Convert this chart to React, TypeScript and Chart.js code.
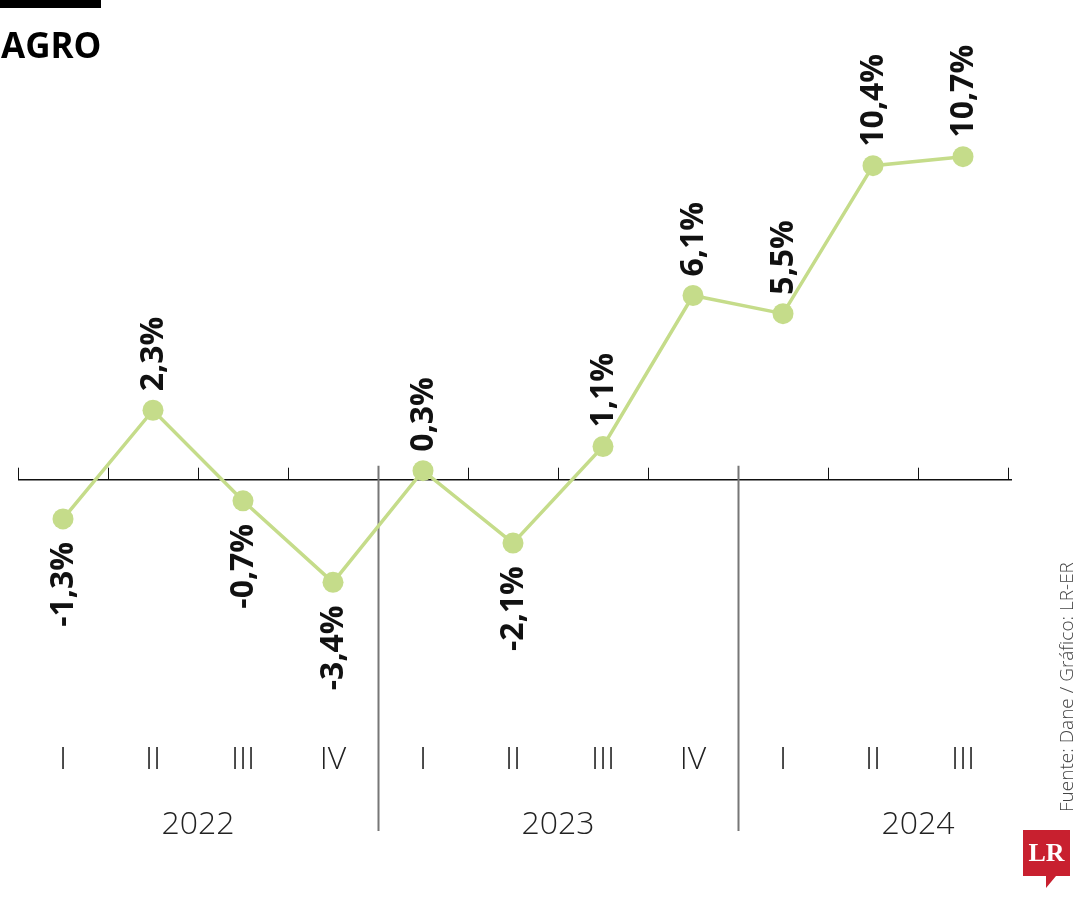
import React, { useEffect, useRef } from "react";
import { Chart, registerables } from "chart.js";

Chart.register(...registerables);

const quarters = ["I", "II", "III", "IV", "I", "II", "III", "IV", "I", "II", "III"];
const years = ["2022", "2023", "2024"];
const quartersPerYear = [4, 4, 3];
const values = [-1.3, 2.3, -0.7, -3.4, 0.3, -2.1, 1.1, 6.1, 5.5, 10.4, 10.7];
const valueLabels = ["-1,3%", "2,3%", "-0,7%", "-3,4%", "0,3%", "-2,1%", "1,1%", "6,1%", "5,5%", "10,4%", "10,7%"];
const title = "AGRO";
const source = "Fuente: Dane / Gráfico: LR-ER";

const GREEN = "rgb(197,220,138)";

const decor = {
  id: "decor",
  beforeDatasetsDraw(chart: any) {
    const ctx = chart.ctx;
    const x = chart.scales.x;
    const y = chart.scales.y;
    const y0 = y.getPixelForValue(0);
    const n = values.length;
    const step = x.getPixelForValue(1) - x.getPixelForValue(0);
    const left = x.getPixelForValue(0) - step / 2;
    ctx.save();
    ctx.strokeStyle = "#111";
    ctx.lineWidth = 1.5;
    ctx.beginPath();
    ctx.moveTo(left, y0);
    ctx.lineTo(left + n * step + 4, y0);
    ctx.stroke();
    let idx = 0;
    const dividers: number[] = [];
    quartersPerYear.forEach((q, i) => {
      idx += q;
      if (i < quartersPerYear.length - 1) dividers.push(idx);
    });
    for (let i = 0; i <= n; i++) {
      const px = Math.round(left + i * step) + 0.5;
      if (dividers.includes(i)) {
        ctx.strokeStyle = "#777";
        ctx.lineWidth = 2;
        ctx.beginPath();
        ctx.moveTo(px, y0 - 14);
        ctx.lineTo(px, 831);
        ctx.stroke();
      } else {
        ctx.strokeStyle = "#111";
        ctx.lineWidth = 1;
        ctx.beginPath();
        ctx.moveTo(px, y0 - 12);
        ctx.lineTo(px, y0);
        ctx.stroke();
      }
    }
    ctx.restore();
  },
  afterDraw(chart: any) {
    const ctx = chart.ctx;
    const x = chart.scales.x;
    const y = chart.scales.y;
    const step = x.getPixelForValue(1) - x.getPixelForValue(0);
    const left = x.getPixelForValue(0) - step / 2;
    ctx.save();
    ctx.fillStyle = "#000";
    ctx.fillRect(0, 0, 101, 8);
    ctx.font = "bold 35px 'Open Sans'";
    ctx.textAlign = "left";
    ctx.textBaseline = "alphabetic";
    ctx.fillText(title, 1, 58);
    ctx.font = "bold 32px 'Open Sans'";
    ctx.fillStyle = "#111";
    values.forEach((v, i) => {
      const px = x.getPixelForValue(i);
      const py = y.getPixelForValue(v);
      ctx.save();
      if (v >= 0) {
        ctx.translate(px + 1, py - 19);
        ctx.rotate(-Math.PI / 2);
        ctx.textAlign = "left";
      } else {
        ctx.translate(px + 1, py + 23);
        ctx.rotate(-Math.PI / 2);
        ctx.textAlign = "right";
      }
      ctx.textBaseline = "middle";
      ctx.fillText(valueLabels[i], 0, 0);
      ctx.restore();
    });
    ctx.font = "300 32px 'Open Sans'";
    ctx.fillStyle = "#222";
    ctx.textAlign = "center";
    ctx.textBaseline = "middle";
    quarters.forEach((q, i) => {
      ctx.fillText(q, x.getPixelForValue(i), 760);
    });
    let start = 0;
    years.forEach((yr, i) => {
      const q = quartersPerYear[i];
      const from = left + start * step;
      const to = left + (start + (i === years.length - 1 ? 4 : q)) * step;
      ctx.fillText(yr, (from + to) / 2, 825);
      start += q;
    });
    ctx.save();
    ctx.font = "300 19px 'Open Sans'";
    ctx.fillStyle = "#444";
    ctx.translate(1068, 812);
    ctx.rotate(-Math.PI / 2);
    ctx.textAlign = "left";
    ctx.textBaseline = "middle";
    ctx.fillText(source, 0, 0);
    ctx.restore();
    ctx.fillStyle = "#c8202f";
    ctx.beginPath();
    ctx.moveTo(1023, 830);
    ctx.lineTo(1070, 830);
    ctx.lineTo(1070, 876);
    ctx.lineTo(1056, 876);
    ctx.lineTo(1046, 888);
    ctx.lineTo(1046, 876);
    ctx.lineTo(1023, 876);
    ctx.closePath();
    ctx.fill();
    ctx.fillStyle = "#fff";
    ctx.font = "bold 26px 'Liberation Serif'";
    ctx.textAlign = "center";
    ctx.textBaseline = "middle";
    ctx.fillText("LR", 1046.5, 854);
    ctx.restore();
  },
};

export default function App() {
  const ref = useRef<HTMLCanvasElement | null>(null);
  useEffect(() => {
    if (!ref.current) return;
    const chart = new Chart(ref.current, {
      type: "line",
      data: {
        labels: quarters.map((q, i) => q + "-" + i),
        datasets: [
          {
            data: values,
            borderColor: GREEN,
            backgroundColor: GREEN,
            borderWidth: 3.5,
            pointRadius: 10.5,
            pointBackgroundColor: GREEN,
            pointBorderWidth: 0,
            tension: 0,
          },
        ],
      },
      options: {
        responsive: false,
        animation: false,
        devicePixelRatio: 1,
        layout: { padding: { left: 18, right: 72, top: 57, bottom: 58 } },
        plugins: { legend: { display: false }, tooltip: { enabled: false } },
        scales: {
          x: { type: "category", offset: true, display: false },
          y: { type: "linear", min: -12, max: 14, display: false },
        },
      },
      plugins: [decor],
    });
    return () => chart.destroy();
  }, []);
  return (
    <div style={{ position: "absolute", left: 0, top: 0, width: 1080, height: 900, background: "#fff" }}>
      <canvas ref={ref} width={1080} height={900} />
    </div>
  );
}
